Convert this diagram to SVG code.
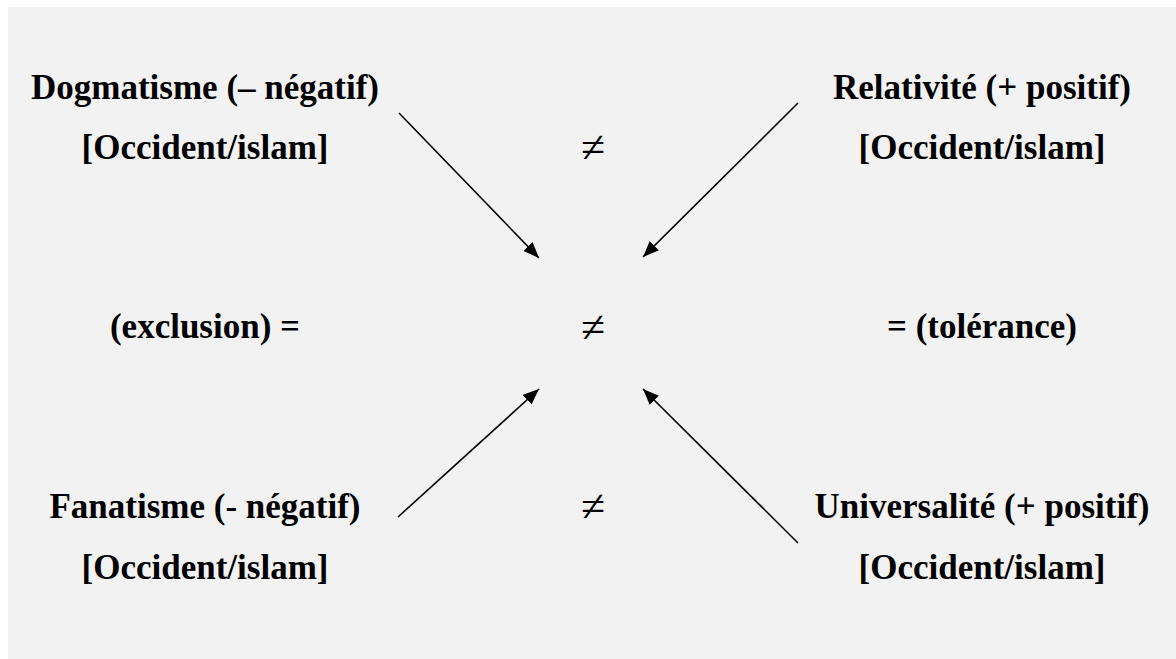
<svg xmlns="http://www.w3.org/2000/svg" width="1176" height="659" viewBox="0 0 1176 659">
<defs>
<style>
text{fill:#000;text-anchor:middle}
.t{font-size:35px;font-weight:bold}
.ne{font-size:44px;font-weight:normal}
.c{stroke:#000;stroke-width:1.6;fill:none;marker-end:url(#ah)}
</style>
<marker id="ah" viewBox="0 0 16 13" refX="16" refY="6.5" markerWidth="16" markerHeight="13" markerUnits="userSpaceOnUse" orient="auto">
<path d="M0,0 L16,6.5 L0,13 Z" fill="#000"/>
</marker>
</defs>
<rect x="0" y="0" width="1176" height="659" fill="#fff"/>
<rect x="8" y="7" width="1168" height="652" fill="#f2f2f2"/>
<g font-family="Liberation Serif, Tinos, Times New Roman, serif">
<g id="dogmatisme">
<text class="t" x="205" y="99">Dogmatisme (– négatif)</text>
<text class="t" x="205" y="159">[Occident/islam]</text>
</g>
<g id="relativite">
<text class="t" x="982" y="99">Relativité (+ positif)</text>
<text class="t" x="982" y="159">[Occident/islam]</text>
</g>
<g id="exclusion">
<text class="t" x="205" y="338">(exclusion) =</text>
</g>
<g id="tolerance">
<text class="t" x="982" y="338">= (tolérance)</text>
</g>
<g id="fanatisme">
<text class="t" x="205" y="518">Fanatisme (- négatif)</text>
<text class="t" x="205" y="579">[Occident/islam]</text>
</g>
<g id="universalite">
<text class="t" x="982" y="518">Universalité (+ positif)</text>
<text class="t" x="982" y="579">[Occident/islam]</text>
</g>
<g id="neq-top"><text class="ne" x="593" y="162">≠</text></g>
<g id="neq-mid"><text class="ne" x="593" y="342">≠</text></g>
<g id="neq-bot"><text class="ne" x="593" y="521">≠</text></g>
</g>
<g id="connectors">
<line class="c" x1="399" y1="113" x2="539" y2="258"/>
<line class="c" x1="798" y1="103" x2="643" y2="257"/>
<line class="c" x1="398" y1="517" x2="539" y2="389"/>
<line class="c" x1="798" y1="543" x2="643" y2="389"/>
</g>
</svg>
